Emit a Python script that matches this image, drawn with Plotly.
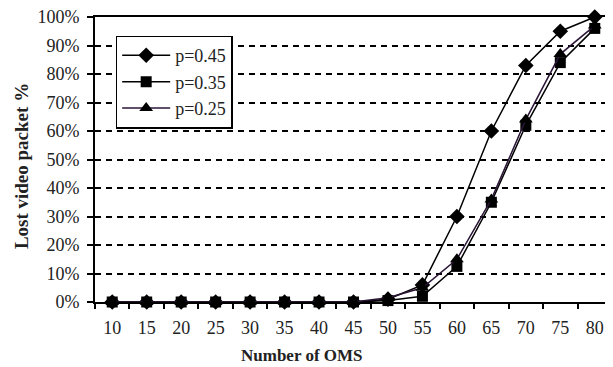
import plotly.graph_objects as go

oms = ["10", "15", "20", "25", "30", "35", "40", "45", "50", "55", "60", "65", "70", "75", "80"]
p045 = [0, 0, 0, 0, 0, 0, 0, 0, 1, 6, 30, 60, 83, 95, 100]
p035 = [0, 0, 0, 0, 0, 0, 0, 0, 0.5, 2, 12.5, 35, 62, 84, 96]
p025 = [0, 0, 0, 0, 0, 0, 0, 0, 1.5, 5, 15, 36, 64, 87, 97]
y_ticks = list(range(0, 101, 10))
y_labels = [f"{v}%" for v in y_ticks]

font = "Liberation Serif, Times New Roman, serif"
txt = "#222"

fig = go.Figure()
fig.add_trace(go.Scatter(x=oms, y=p045, name="p=0.45", mode="lines+markers",
                         line=dict(color="black", width=1.5),
                         marker=dict(symbol="diamond", size=12, color="black"),
                         cliponaxis=False))
fig.add_trace(go.Scatter(x=oms, y=p035, name="p=0.35", mode="lines+markers",
                         line=dict(color="black", width=1.5),
                         marker=dict(symbol="square", size=11, color="black"),
                         cliponaxis=False))
fig.add_trace(go.Scatter(x=oms, y=p025, name="p=0.25", mode="lines+markers",
                         line=dict(color="#2a1536", width=1.5),
                         marker=dict(symbol="triangle-up", size=12, color="black"),
                         cliponaxis=False))

fig.update_layout(
    width=605, height=359,
    margin=dict(l=87, r=1, t=9, b=65),
    paper_bgcolor="white", plot_bgcolor="white",
    font=dict(family=font, size=18, color=txt),
    showlegend=True,
    legend=dict(x=0.04, y=0.935, xanchor="left", yanchor="top",
                bordercolor="black", borderwidth=1.5, bgcolor="white",
                font=dict(family=font, size=18, color=txt),
                tracegroupgap=0, itemwidth=48),
    xaxis=dict(type="category", categoryorder="array", categoryarray=oms,
               range=[-0.5, 14.5], showline=True, linecolor="black", linewidth=2,
               mirror=True, ticks="outside", tickson="boundaries", ticklen=5,
               tickcolor="black", tickwidth=1.5, showgrid=False, automargin=False,
               ticklabelstandoff=8, ticklabeloverflow="allow",
               tickfont=dict(family=font, size=18, color=txt)),
    yaxis=dict(range=[0, 100], tickvals=y_ticks, ticktext=y_labels,
               showline=True, linecolor="black", linewidth=2, mirror=True,
               ticks="outside", ticklen=6, tickcolor="black", tickwidth=1.5,
               showgrid=True, gridcolor="black", gridwidth=1.8, griddash="6px,5px",
               zeroline=False, automargin=False, ticklabelstandoff=4,
               ticklabeloverflow="allow",
               tickfont=dict(family=font, size=18, color=txt)),
    yaxis2=dict(range=[0, 100], overlaying="y", side="left", tickvals=y_ticks,
                showticklabels=False, ticks="inside", ticklen=5, tickcolor="black",
                tickwidth=1.5, showgrid=False, zeroline=False, showline=False),
    annotations=[
        dict(text="<b>Number of OMS</b>", xref="paper", yref="paper", x=0.40, y=-0.186,
             xanchor="center", yanchor="middle", showarrow=False,
             font=dict(family=font, size=17, color=txt)),
        dict(text="<b>Lost video packet %</b>", xref="paper", yref="paper", x=-0.143, y=0.477,
             xanchor="center", yanchor="middle", textangle=-90, showarrow=False,
             font=dict(family=font, size=19, color=txt)),
    ],
)

fig.write_html("out.html")
